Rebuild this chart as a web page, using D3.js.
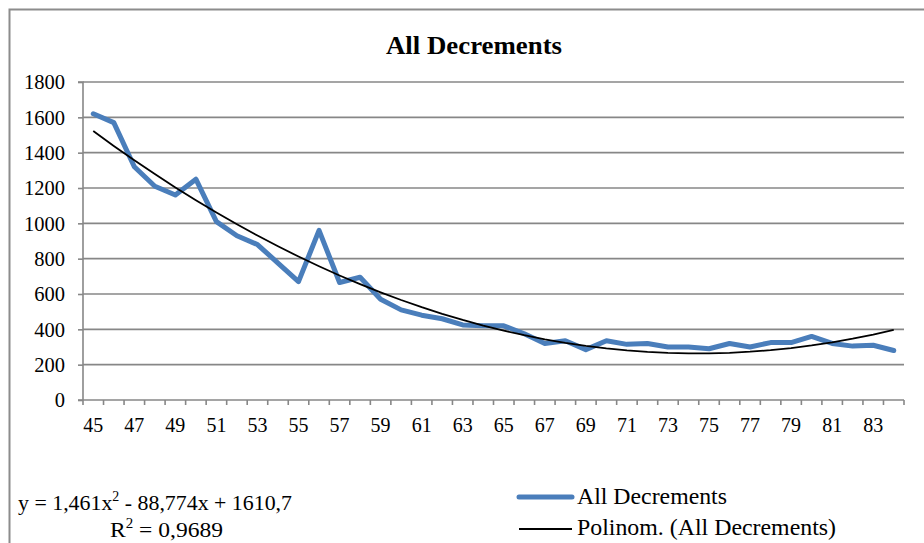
<!DOCTYPE html>
<html>
<head>
<meta charset="utf-8">
<script src="https://cdn.jsdelivr.net/npm/d3@7"></script>
<style>
  html, body { margin: 0; padding: 0; background: #fff; }
  svg { display: block; }
  svg text { font-family: "Liberation Serif", "Times New Roman", Times, "Liberation Sans", Arial, sans-serif; }
</style>
</head>
<body>
<svg id="chart" width="924" height="543"></svg>
<script>
// ---- Data ----
const categories = d3.range(45, 85); // 45 .. 84
const allDecrements = [
  1620, 1570, 1320, 1210, 1160, 1250, 1010, 930, 880, 775,
  670, 960, 665, 695, 570, 510, 480, 460, 425, 420,
  420, 375, 320, 335, 285, 335, 315, 320, 300, 300,
  290, 320, 300, 325, 325, 360, 320, 305, 310, 280
];
const yTicks = [0, 200, 400, 600, 800, 1000, 1200, 1400, 1600, 1800];
const xTickLabels = d3.range(45, 84, 2);
const titleText = "All Decrements";
const equationText = ["y = 1,461x", "2", " - 88,774x + 1610,7"];
const r2Text = ["R", "2", " = 0,9689"];
const legendLabels = ["All Decrements", "Polinom. (All Decrements)"];

// ---- Polynomial (order 2) least-squares fit, x = 1..n as Excel does ----
function polyFit2(ys) {
  let S = [0, 0, 0, 0, 0], T = [0, 0, 0];
  ys.forEach((yv, i) => {
    const xv = i + 1;
    for (let k = 0; k < 5; k++) S[k] += Math.pow(xv, k);
    for (let k = 0; k < 3; k++) T[k] += yv * Math.pow(xv, k);
  });
  const A = [[S[0], S[1], S[2], T[0]], [S[1], S[2], S[3], T[1]], [S[2], S[3], S[4], T[2]]];
  for (let i = 0; i < 3; i++) {
    for (let j = i + 1; j < 3; j++) {
      const f = A[j][i] / A[i][i];
      for (let k = i; k < 4; k++) A[j][k] -= f * A[i][k];
    }
  }
  const c = [0, 0, 0];
  for (let i = 2; i >= 0; i--) {
    let s = A[i][3];
    for (let k = i + 1; k < 3; k++) s -= A[i][k] * c[k];
    c[i] = s / A[i][i];
  }
  return c;
}
const coef = polyFit2(allDecrements);
const trend = allDecrements.map((_, i) => {
  const xv = i + 1;
  return coef[0] + coef[1] * xv + coef[2] * xv * xv;
});

// ---- Layout ----
const svg = d3.select("#chart");
const plot = { left: 83, right: 904, top: 82, bottom: 400 };
const gridColor = "#878787";
const blue = "#4A7EBB";

// Outer chart frame
svg.append("path")
  .attr("d", `M9.5,560 L9.5,9.5 L940,9.5`)
  .attr("fill", "none")
  .attr("stroke", "#8c8c8c")
  .attr("stroke-width", 2);

const x = d3.scaleBand().domain(categories).range([plot.left, plot.right]).paddingInner(0).paddingOuter(0);
const y = d3.scaleLinear().domain([0, 1800]).range([plot.bottom, plot.top]);

// Gridlines
svg.append("g")
  .selectAll("line")
  .data(yTicks.filter(d => d > 0))
  .join("line")
  .attr("x1", plot.left).attr("x2", plot.right)
  .attr("y1", d => y(d)).attr("y2", d => y(d))
  .attr("stroke", gridColor).attr("stroke-width", 1.6);

// Y axis
const yAxis = d3.axisLeft(y).tickValues(yTicks).tickSize(5).tickPadding(13).tickFormat(d3.format("d"));
const gy = svg.append("g").attr("transform", `translate(${plot.left},0)`).call(yAxis);
gy.attr("font-family", null).attr("font-size", null);
gy.select(".domain").attr("stroke", gridColor).attr("stroke-width", 1.6).attr("d", `M-5,${plot.top}H0V${plot.bottom}`);
gy.selectAll(".tick line").attr("stroke", gridColor).attr("stroke-width", 1.6);
gy.selectAll(".tick text").attr("font-size", 20.5).attr("fill", "#000").attr("dy", "0.33em");

// X axis: ticks at category boundaries, labels on every other category
const gx = svg.append("g").attr("transform", `translate(0,${plot.bottom})`);
gx.append("line").attr("x1", plot.left - 5).attr("x2", plot.right)
  .attr("y1", 0).attr("y2", 0).attr("stroke", gridColor).attr("stroke-width", 1.6);
const boundaries = categories.map(c => x(c)).concat([plot.right]);
gx.selectAll("line.tk").data(boundaries).join("line").attr("class", "tk")
  .attr("x1", d => d).attr("x2", d => d).attr("y1", 0).attr("y2", 5)
  .attr("stroke", gridColor).attr("stroke-width", 1.6);
gx.selectAll("text").data(xTickLabels).join("text")
  .attr("x", d => x(d) + x.bandwidth() / 2)
  .attr("y", 32)
  .attr("text-anchor", "middle")
  .attr("font-size", 20)
  .attr("fill", "#000")
  .text(d => d);

// Data line
const cx = c => x(c) + x.bandwidth() / 2;
const line = d3.line().x((d, i) => cx(categories[i])).y(d => y(d));
svg.append("path")
  .datum(allDecrements)
  .attr("d", line)
  .attr("fill", "none")
  .attr("stroke", blue)
  .attr("stroke-width", 5)
  .attr("stroke-linejoin", "round")
  .attr("stroke-linecap", "round");

// Trendline
svg.append("path")
  .datum(trend)
  .attr("d", line)
  .attr("fill", "none")
  .attr("stroke", "#000")
  .attr("stroke-width", 1.8);

// Title
svg.append("text")
  .attr("x", 386).attr("y", 54)
  .attr("font-size", 26)
  .attr("font-weight", "bold")
  .attr("fill", "#000")
  .attr("textLength", 176)
  .attr("lengthAdjust", "spacingAndGlyphs")
  .text(titleText);

// Equation
const eq = svg.append("text").attr("x", 18).attr("y", 510).attr("font-size", 22).attr("fill", "#000")
  .attr("textLength", 274).attr("lengthAdjust", "spacingAndGlyphs");
eq.append("tspan").text(equationText[0]);
eq.append("tspan").attr("dy", -9).attr("font-size", 14).text(equationText[1]);
eq.append("tspan").attr("dy", 9).text(equationText[2]);
const r2 = svg.append("text").attr("x", 110).attr("y", 537).attr("font-size", 22).attr("fill", "#000")
  .attr("textLength", 113).attr("lengthAdjust", "spacingAndGlyphs");
r2.append("tspan").text(r2Text[0]);
r2.append("tspan").attr("dy", -9).attr("font-size", 14).text(r2Text[1]);
r2.append("tspan").attr("dy", 9).text(r2Text[2]);

// Legend
const legend = svg.append("g");
const legendItems = [
  { label: legendLabels[0], color: blue, width: 5, y: 497, ty: 504, len: 150 },
  { label: legendLabels[1], color: "#000", width: 2, y: 529, ty: 535, len: 259 }
];
legendItems.forEach(it => {
  legend.append("line")
    .attr("x1", 519).attr("x2", 572).attr("y1", it.y).attr("y2", it.y)
    .attr("stroke", it.color).attr("stroke-width", it.width)
    .attr("stroke-linecap", it.width > 3 ? "round" : "butt");
  legend.append("text")
    .attr("x", 577).attr("y", it.ty)
    .attr("font-size", 23).attr("fill", "#000")
    .attr("textLength", it.len).attr("lengthAdjust", "spacingAndGlyphs")
    .text(it.label);
});
</script>
</body>
</html>
